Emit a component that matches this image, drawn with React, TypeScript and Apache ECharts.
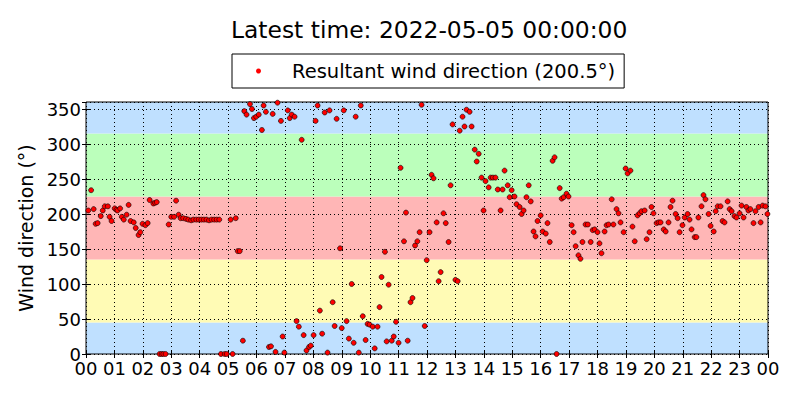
import React, { useEffect, useRef } from "react";
import * as echarts from "echarts";

const TITLE = "Latest time: 2022-05-05 00:00:00";
const SERIES_NAME = "Resultant wind direction (200.5°)";
const Y_NAME = "Wind direction (°)";

// band boundaries (degrees) and colours
const bandEdges = [0, 45, 135, 225, 315, 360];
const bandColors = ["#bfe0ff", "#fffbb5", "#ffb6b6", "#bbffbb", "#bfe0ff"];

// hour of day (0-24) and wind direction (deg)
const hours = [
  0.08, 0.18, 0.27, 0.34, 0.41, 0.52, 0.59, 0.66, 0.77, 0.83, 0.9, 1.01, 1.07, 1.11, 1.2, 1.26, 1.33, 1.43, 1.5, 1.57,
  1.68, 1.75, 1.85, 1.91, 1.99, 2.09, 2.17, 2.24, 2.37, 2.43, 2.49, 2.59, 2.66, 2.72, 2.8, 2.91, 3.0, 3.1, 3.17, 3.26,
  3.33, 3.42, 3.52, 3.6, 3.7, 3.78, 3.88, 3.97, 4.06, 4.15, 4.24, 4.33, 4.42, 4.51, 4.6, 4.69, 4.75, 4.88, 4.95, 5.09,
  5.16, 5.27, 5.34, 5.41, 5.52, 5.57, 5.65, 5.77, 5.84, 5.91, 5.99, 6.08, 6.19, 6.25, 6.33, 6.44, 6.51, 6.57, 6.67, 6.74,
  6.86, 6.92, 6.98, 7.1, 7.17, 7.24, 7.34, 7.41, 7.49, 7.59, 7.66, 7.76, 7.85, 7.91, 8.01, 8.08, 8.15, 8.23, 8.31, 8.4,
  8.5, 8.57, 8.68, 8.75, 8.82, 8.94, 9.0, 9.07, 9.17, 9.25, 9.35, 9.42, 9.49, 9.6, 9.67, 9.74, 9.84, 9.91, 9.98, 10.09,
  10.16, 10.26, 10.33, 10.4, 10.52, 10.58, 10.65, 10.76, 10.83, 10.91, 11.0, 11.07, 11.19, 11.26, 11.32, 11.42, 11.49, 11.58, 11.66, 11.74,
  11.81, 11.92, 11.99, 12.09, 12.16, 12.23, 12.34, 12.41, 12.48, 12.58, 12.66, 12.76, 12.83, 12.9, 13.0, 13.08, 13.15, 13.25, 13.32, 13.39,
  13.5, 13.57, 13.68, 13.75, 13.82, 13.92, 13.99, 14.06, 14.17, 14.24, 14.32, 14.41, 14.49, 14.59, 14.66, 14.73, 14.84, 14.91, 14.98, 15.08,
  15.15, 15.26, 15.33, 15.4, 15.5, 15.58, 15.65, 15.75, 15.82, 15.89, 16.0, 16.07, 16.18, 16.24, 16.32, 16.42, 16.49, 16.56, 16.67, 16.74,
  16.81, 16.91, 16.98, 17.09, 17.16, 17.23, 17.33, 17.4, 17.47, 17.58, 17.66, 17.76, 17.83, 17.9, 18.0, 18.07, 18.14, 18.25, 18.32, 18.39,
  18.5, 18.56, 18.67, 18.74, 18.81, 18.92, 18.99, 19.06, 19.16, 19.23, 19.31, 19.41, 19.48, 19.55, 19.66, 19.73, 19.83, 19.9, 19.97, 20.08,
  20.15, 20.22, 20.33, 20.4, 20.5, 20.57, 20.64, 20.75, 20.82, 20.89, 20.99, 21.07, 21.17, 21.24, 21.31, 21.42, 21.48, 21.55, 21.66, 21.73,
  21.8, 21.91, 21.98, 22.09, 22.16, 22.23, 22.33, 22.4, 22.47, 22.58, 22.65, 22.72, 22.82, 22.89, 23.0, 23.07, 23.14, 23.24, 23.31, 23.38,
  23.49, 23.56, 23.67, 23.74, 23.81, 23.91, 23.98,
];

const directions = [
  205, 234, 207, 186, 187, 197, 205, 211, 211, 196, 190, 208, 206, 205, 208, 196, 192, 199, 213, 190,
  188, 180, 170, 174, 186, 184, 187, 220, 215, 216, 217, 0, 0, 0, 0, 185, 196, 196, 219, 199,
  194, 194, 193, 192, 191, 192, 192, 192, 192, 192, 192, 191, 192, 192, 192, 192, 0, 0, 0, 192,
  0, 194, 147, 147, 19, 347, 342, 357, 350, 337, 339, 342, 320, 355, 346, 10, 11, 343, 3, 359,
  333, 25, 2, 348, 337, 342, 339, 47, 39, 306, 27, 5, 10, 12, 27, 333, 355, 62, 29, 345,
  2, 348, 74, 40, 336, 151, 37, 348, 47, 22, 100, 16, 339, 2, 355, 54, 20, 43, 42, 39,
  8, 39, 67, 110, 146, 18, 99, 19, 25, 46, 16, 266, 161, 202, 19, 74, 80, 155, 161, 174,
  356, 40, 134, 174, 256, 251, 188, 104, 117, 201, 187, 160, 241, 328, 106, 104, 319, 339, 325, 349,
  346, 325, 292, 275, 286, 252, 205, 247, 238, 252, 252, 252, 235, 205, 235, 262, 241, 224, 234, 225,
  214, 210, 200, 205, 224, 241, 218, 175, 168, 190, 198, 175, 172, 187, 160, 276, 281, 0, 237, 222,
  224, 229, 225, 184, 174, 154, 141, 136, 160, 185, 185, 160, 177, 178, 174, 158, 144, 175, 184, 185,
  221, 185, 207, 201, 188, 174, 265, 258, 262, 182, 161, 198, 201, 204, 205, 164, 174, 210, 201, 187,
  188, 188, 178, 175, 188, 210, 219, 200, 194, 174, 184, 195, 200, 192, 178, 167, 167, 195, 211, 227,
  221, 200, 183, 175, 204, 211, 211, 190, 188, 218, 207, 204, 197, 195, 201, 212, 195, 210, 205, 207,
  187, 204, 210, 188, 212, 211, 200,
];

const FONT = "DejaVu Sans";

export default function App() {
  const ref = useRef<HTMLDivElement>(null);
  useEffect(() => {
    document.body.style.margin = "0";
    if (!ref.current) return;
    const chart = echarts.init(ref.current, null, { renderer: "svg" });
    const points = hours.map((h, i) => [h, directions[i]]);
    const bands = bandColors.map((c, i) => [
      { yAxis: bandEdges[i], itemStyle: { color: c } },
      { yAxis: bandEdges[i + 1] },
    ]);
    const pad = (v: number) => String(Math.round(v) % 24).padStart(2, "0");
    const splitLine = { show: true, lineStyle: { color: "#000", type: [1, 3], width: 1 } };
    const tickIn = { show: true, inside: true, length: 4, lineStyle: { color: "#000" } };
    chart.setOption({
      animation: false,
      backgroundColor: "#fff",
      textStyle: { fontFamily: FONT },
      title: {
        text: TITLE,
        left: 231,
        top: 18,
        padding: 0,
        textStyle: { fontFamily: FONT, fontSize: 23.4, fontWeight: "normal", color: "#000" },
      },
      legend: {
        left: 232,
        top: 54,
        padding: [7, 9, 7, 24],
        borderColor: "#000",
        borderWidth: 1,
        borderRadius: 0,
        itemWidth: 5,
        itemHeight: 5,
        icon: "circle",
        itemStyle: { borderWidth: 0, color: "#ff0000" },
        textStyle: { fontFamily: FONT, fontSize: 19.5, color: "#000", padding: [0, 0, 0, 26] },
        data: [SERIES_NAME],
      },
      grid: {
        left: 86,
        right: 32,
        top: 102,
        bottom: 46,
        show: true,
        borderColor: "#000",
        borderWidth: 1,
        backgroundColor: "transparent",
      },
      xAxis: [
        {
          type: "value",
          min: 0,
          max: 24,
          interval: 1,
          axisLine: { show: false },
          axisTick: tickIn,
          splitLine,
          axisLabel: { formatter: pad, fontFamily: FONT, fontSize: 18, color: "#000", margin: 5 },
        },
        {
          type: "value",
          position: "top",
          min: 0,
          max: 24,
          interval: 1,
          axisLine: { show: false },
          axisTick: tickIn,
          splitLine: { show: false },
          axisLabel: { show: false },
        },
      ],
      yAxis: [
        {
          type: "value",
          min: 0,
          max: 360,
          interval: 50,
          name: Y_NAME,
          nameLocation: "middle",
          nameGap: 46,
          nameTextStyle: { fontFamily: FONT, fontSize: 19, color: "#000", padding: [0, 0, 0, 0] },
          axisLine: { show: false },
          axisTick: tickIn,
          splitLine,
          axisLabel: { showMaxLabel: false, fontFamily: FONT, fontSize: 18, color: "#000", margin: 5 },
        },
        {
          type: "value",
          position: "right",
          min: 0,
          max: 360,
          interval: 50,
          axisLine: { show: false },
          axisTick: tickIn,
          splitLine: { show: false },
          axisLabel: { show: false },
        },
      ],
      series: [
        {
          type: "scatter",
          name: "bands",
          z: -1,
          silent: true,
          data: [],
          markArea: { silent: true, z: -1, data: bands },
        },
        {
          type: "scatter",
          name: SERIES_NAME,
          data: points,
          symbol: "circle",
          symbolSize: 5,
          itemStyle: { color: "#ff0000", borderColor: "#000", borderWidth: 0.6, opacity: 1 },
          z: 3,
        },
      ],
    });
    return () => chart.dispose();
  }, []);
  return <div ref={ref} style={{ width: 800, height: 400 }} />;
}
